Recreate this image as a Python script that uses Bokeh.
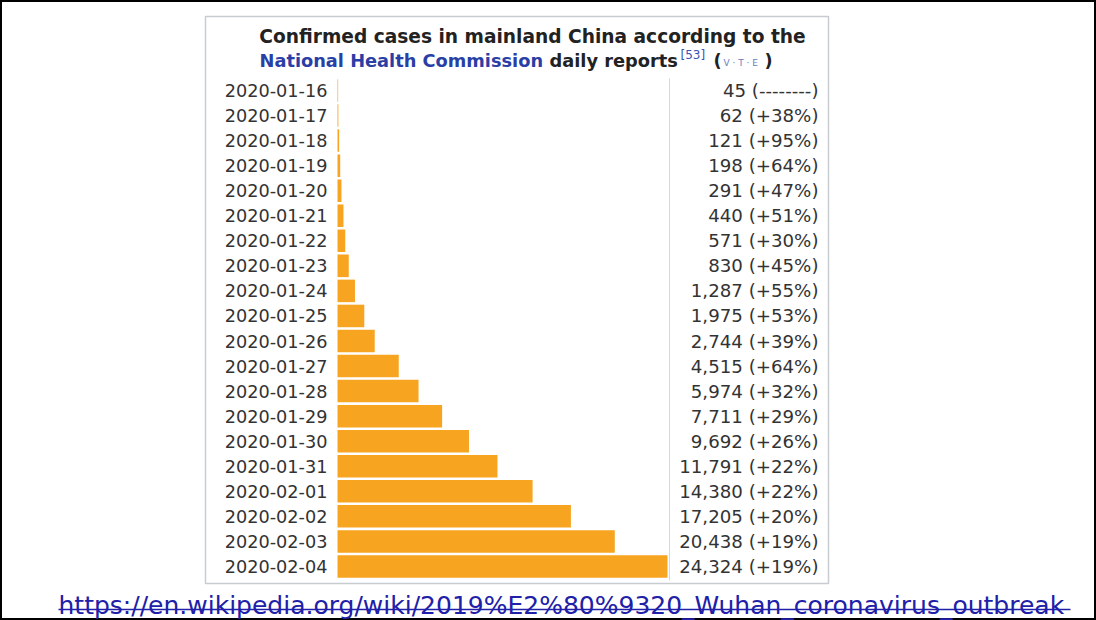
from bokeh.plotting import figure
from bokeh.models import Range1d, ColumnDataSource, Label
from bokeh.core.properties import value
from bokeh.embed import file_html
from bokeh.resources import INLINE

# ---- data ----
dates = ["2020-01-16", "2020-01-17", "2020-01-18", "2020-01-19", "2020-01-20",
         "2020-01-21", "2020-01-22", "2020-01-23", "2020-01-24", "2020-01-25",
         "2020-01-26", "2020-01-27", "2020-01-28", "2020-01-29", "2020-01-30",
         "2020-01-31", "2020-02-01", "2020-02-02", "2020-02-03", "2020-02-04"]
cases = [45, 62, 121, 198, 291, 440, 571, 830, 1287, 1975,
         2744, 4515, 5974, 7711, 9692, 11791, 14380, 17205, 20438, 24324]
changes = ["--------", "+38%", "+95%", "+64%", "+47%", "+51%", "+30%", "+45%",
           "+55%", "+53%", "+39%", "+64%", "+32%", "+29%", "+26%", "+22%",
           "+22%", "+20%", "+19%", "+19%"]
title_line1 = "Confirmed cases in mainland China according to the"
title_link = "National Health Commission"
title_rest = "daily reports"
ref_mark = "[53]"
navbar = "V \u00b7 T \u00b7 E"
source_url = "https://en.wikipedia.org/wiki/2019%E2%80%9320_Wuhan_coronavirus_outbreak"

# ---- layout (page pixel geometry) ----
W, H = 1096, 620
OFF = 0
BAR_X0, BAR_X1 = 337, 667
ROW0_Y, PITCH = 90, 25.05
FONT = "DejaVu Sans"

dpp = max(cases) / (BAR_X1 - BAR_X0)
x_start = (OFF - BAR_X0) * dpp
x_end = (OFF + W - BAR_X0) * dpp
y_bottom = (OFF + H - ROW0_Y) / PITCH
y_top = (OFF - ROW0_Y) / PITCH


def X(px):
    return (px - BAR_X0) * dpp


def Y(py):
    return (py - ROW0_Y) / PITCH


p = figure(width=W, height=H, output_backend="svg", toolbar_location=None,
           x_range=Range1d(x_start, x_end), y_range=Range1d(y_bottom, y_top),
           min_border=0, tools="")
p.axis.visible = False
p.grid.visible = False
p.outline_line_color = "black"
p.outline_line_width = 3
p.background_fill_color = "white"

# table box
p.quad(left=[X(205)], right=[X(828)], top=[Y(16)], bottom=[Y(583)],
       fill_color="white", line_color="#c8ccd1", line_width=1.5)
# right border of bar cell
p.segment(x0=[X(669)], x1=[X(669)], y0=[Y(78)], y1=[Y(580)],
          line_color="#d6d8dc", line_width=1)

src = ColumnDataSource(dict(
    idx=list(range(len(dates))),
    date=dates,
    cases=cases,
    lab=[f"{c:,} ({ch})" for c, ch in zip(cases, changes)],
))

p.hbar(y="idx", left=0, right="cases", height=0.9, source=src,
       fill_color="#F7A521", line_color=None)

p.text(x=0, y="idx", text="date", source=src, x_offset=-10,
       text_align="right", text_baseline="middle",
       text_font=value(FONT), text_font_size="17.7px", text_color="#333333")
p.text(x=X(818), y="idx", text="lab", source=src,
       text_align="right", text_baseline="middle",
       text_font=value(FONT), text_font_size="18.2px", text_color="#333333")

# title
p.add_layout(Label(x=X(532), y=Y(36), text=title_line1, text_align="center",
                   text_baseline="middle", text_font=FONT, text_font_style="bold",
                   text_font_size="18.6px", text_color="#222222"))
p.add_layout(Label(x=X(259), y=Y(60), text=title_link, text_align="left",
                   text_baseline="middle", text_font=FONT, text_font_style="bold",
                   text_font_size="17.8px", text_color="#2a3fa6"))
p.add_layout(Label(x=X(549), y=Y(60), text=title_rest, text_align="left",
                   text_baseline="middle", text_font=FONT, text_font_style="bold",
                   text_font_size="17.8px", text_color="#222222"))
p.add_layout(Label(x=X(680), y=Y(54), text=ref_mark, text_align="left",
                   text_baseline="middle", text_font=FONT,
                   text_font_size="12px", text_color="#3a55b0"))
p.add_layout(Label(x=X(713), y=Y(60), text="(", text_align="left",
                   text_baseline="middle", text_font=FONT, text_font_style="bold",
                   text_font_size="17.8px", text_color="#222222"))
p.add_layout(Label(x=X(723), y=Y(62), text=navbar, text_align="left",
                   text_baseline="middle", text_font=FONT,
                   text_font_size="9px", text_color="#6a7bc0"))
p.add_layout(Label(x=X(764), y=Y(60), text=")", text_align="left",
                   text_baseline="middle", text_font=FONT, text_font_style="bold",
                   text_font_size="17.8px", text_color="#222222"))

# source url (underlined link)
p.add_layout(Label(x=X(58), y=Y(605), text=source_url, text_align="left",
                   text_baseline="alphabetic", text_font=FONT,
                   text_font_size="25px", text_color="#2020a8"))
p.segment(x0=[X(58)], x1=[X(1070)], y0=[Y(609)], y1=[Y(609)],
          line_color="#2020a8", line_width=1.5)

open("out.html", "w").write(file_html(p, INLINE))
